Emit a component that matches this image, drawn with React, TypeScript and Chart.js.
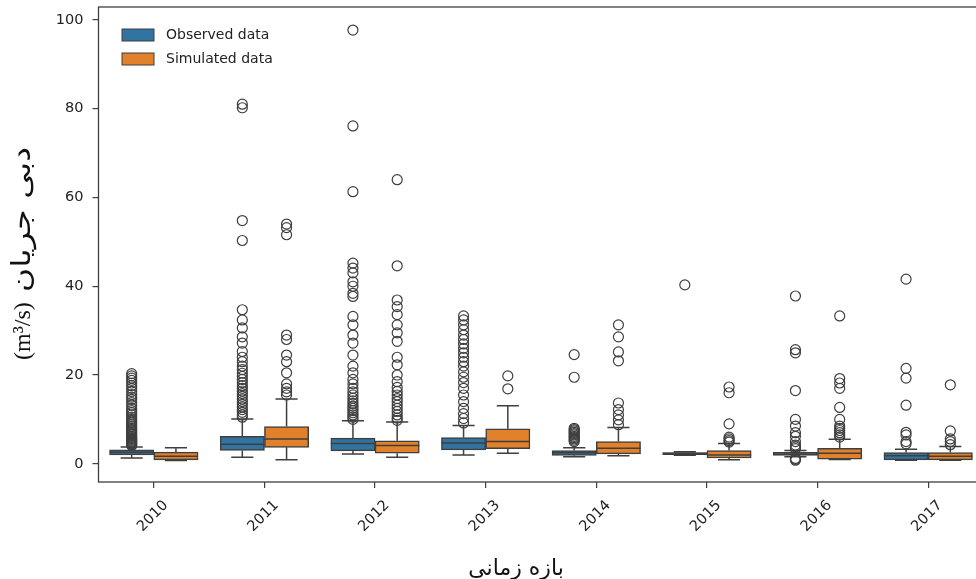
import React, { useEffect, useRef } from 'react';
import { Chart, registerables } from 'chart.js';

Chart.register(...registerables);

const years = ['2010', '2011', '2012', '2013', '2014', '2015', '2016', '2017'];
const yTicks = [0, 20, 40, 60, 80, 100];
const seriesNames = ['Observed data', 'Simulated data'];

const obsLow = [1.3, 1.5, 2.2, 2.0, 1.6, 1.95, 1.6, 0.8];
const obsQ1 = [2.0, 3.0, 2.9, 3.15, 1.9, 2.05, 1.9, 0.9];
const obsMed = [2.6, 4.4, 4.6, 4.7, 2.5, 2.3, 2.2, 1.8];
const obsQ3 = [3.15, 6.2, 5.8, 5.9, 3.0, 2.55, 2.6, 2.55];
const obsHigh = [3.8, 10.1, 9.7, 8.6, 3.6, 2.7, 3.0, 3.3];

const simLow = [0.75, 0.9, 1.5, 2.4, 1.8, 0.9, 0.95, 0.8];
const simQ1 = [0.9, 3.7, 2.4, 3.4, 2.25, 1.3, 1.05, 0.9];
const simMed = [1.7, 5.6, 4.1, 5.0, 3.5, 2.0, 2.4, 1.7];
const simQ3 = [2.64, 8.4, 5.2, 7.9, 5.0, 3.0, 3.5, 2.55];
const simHigh = [3.6, 14.6, 9.4, 13.1, 8.2, 4.6, 5.55, 3.9];

const obsOutliers: number[][] = [
  [4.1, 4.3, 4.5, 4.7, 4.9, 5.1, 5.3, 5.5, 5.7, 5.9, 6.2, 6.5, 6.8, 7.1, 7.4, 7.7, 8.0, 8.4, 8.8, 9.2, 9.6, 10.0, 10.5, 11.0, 11.5, 12.0, 12.5, 13.2, 13.8, 14.5, 15.0, 15.6, 16.3, 17.0, 17.6, 18.2, 18.8, 19.3, 19.8, 20.3],
  [81.0, 80.2, 54.8, 50.3, 34.7, 32.4, 30.6, 28.6, 27.2, 25.3, 24.0, 23.0, 22.0, 21.2, 20.4, 19.7, 19.0, 18.3, 17.6, 17.0, 16.4, 15.8, 15.2, 14.6, 14.0, 13.4, 12.8, 12.2, 11.6, 11.0, 10.5],
  [97.7, 76.1, 61.3, 45.2, 44.1, 43.0, 41.0, 40.0, 38.4, 37.7, 33.2, 31.3, 29.0, 27.2, 24.5, 22.0, 20.5, 19.0, 18.0, 17.0, 16.2, 15.5, 14.8, 14.2, 13.6, 13.0, 12.5, 12.0, 11.5, 11.0, 10.5, 10.0],
  [33.3, 32.4, 31.3, 30.2, 29.0, 28.0, 27.0, 26.0, 25.0, 24.0, 23.0, 22.0, 20.7, 19.5, 18.3, 17.0, 15.5, 14.0, 12.5, 11.3, 10.2, 9.2],
  [24.6, 19.5, 8.0, 7.7, 7.4, 7.1, 6.8, 6.5, 6.2, 5.9, 5.6, 5.3, 5.0],
  [40.3],
  [37.8, 25.7, 25.0, 16.5, 10.0, 8.5, 7.0, 6.2, 5.0, 4.2, 3.8, 3.4, 1.2, 1.0, 0.8],
  [41.6, 21.5, 19.3, 13.2, 7.1, 6.5, 5.0, 4.5],
];

const simOutliers: number[][] = [
  [],
  [54.0, 53.2, 51.6, 29.0, 28.0, 24.5, 23.0, 20.5, 18.0, 17.0, 16.2, 15.5],
  [64.0, 44.6, 36.9, 35.4, 33.6, 31.3, 29.5, 27.6, 24.0, 22.3, 20.0, 18.5, 17.2, 16.3, 15.5, 14.7, 14.0, 13.2, 12.5, 11.8, 11.0, 10.3, 9.8],
  [19.8, 16.9],
  [31.3, 28.6, 25.2, 23.2, 13.7, 12.2, 11.0, 9.9, 8.8],
  [17.3, 16.0, 9.0, 6.0, 5.6, 5.2, 4.9],
  [33.3, 19.2, 18.2, 17.0, 12.7, 10.0, 8.5, 8.0, 7.5, 7.0, 6.5, 6.0],
  [17.8, 7.4, 5.6, 5.0, 4.3],
];

const BLUE = '#3274a1';
const ORANGE = '#e1812c';
const EDGE = '#3f3f3f';
const TEXT = '#222222';
const SANS = '"DejaVu Sans", sans-serif';
const SERIF = '"Liberation Serif", "DejaVu Serif", serif';

const HUE_SHIFT = [-0.2, 0.2];

const boxStats = [
  { low: obsLow, q1: obsQ1, med: obsMed, q3: obsQ3, high: obsHigh },
  { low: simLow, q1: simQ1, med: simMed, q3: simQ3, high: simHigh },
];

const boxPlugin = {
  id: 'boxExtras',
  afterDatasetsDraw(chart: any) {
    const { ctx, scales } = chart;
    const y = scales.y;
    ctx.save();
    ctx.strokeStyle = EDGE;
    ctx.lineWidth = 1.5;
    for (let d = 0; d < 2; d++) {
      const meta = chart.getDatasetMeta(d);
      const st = boxStats[d];
      meta.data.forEach((bar: any, i: number) => {
        const { x, width } = bar.getProps(['x', 'width'], true);
        const yLow = y.getPixelForValue(st.low[i]);
        const yQ1 = y.getPixelForValue(st.q1[i]);
        const yMed = y.getPixelForValue(st.med[i]);
        const yQ3 = y.getPixelForValue(st.q3[i]);
        const yHigh = y.getPixelForValue(st.high[i]);
        const cap = width / 4;
        ctx.beginPath();
        ctx.moveTo(x, yQ3);
        ctx.lineTo(x, yHigh);
        ctx.moveTo(x - cap, yHigh);
        ctx.lineTo(x + cap, yHigh);
        ctx.moveTo(x, yQ1);
        ctx.lineTo(x, yLow);
        ctx.moveTo(x - cap, yLow);
        ctx.lineTo(x + cap, yLow);
        ctx.moveTo(x - width / 2, yMed);
        ctx.lineTo(x + width / 2, yMed);
        ctx.stroke();
      });
    }
    ctx.restore();
  },
  afterDraw(chart: any) {
    const { ctx, chartArea } = chart;
    const { left, top, right, bottom } = chartArea;
    ctx.save();
    // frame
    ctx.strokeStyle = EDGE;
    ctx.lineWidth = 1.3;
    ctx.strokeRect(left, top, right - left, bottom - top);
    // legend
    const colors = [BLUE, ORANGE];
    ctx.font = `14px ${SANS}`;
    ctx.textBaseline = 'middle';
    ctx.textAlign = 'left';
    seriesNames.forEach((name, k) => {
      const ry = top + 22 + k * 24;
      ctx.fillStyle = colors[k];
      ctx.fillRect(left + 23.5, ry, 32, 12);
      ctx.lineWidth = 1;
      ctx.strokeStyle = EDGE;
      ctx.strokeRect(left + 23.5, ry, 32, 12);
      ctx.fillStyle = TEXT;
      ctx.fillText(name, left + 67.5, ry + 6);
    });
    // x axis title
    ctx.fillStyle = '#111';
    ctx.textAlign = 'center';
    ctx.textBaseline = 'middle';
    ctx.font = `22px "DejaVu Sans", ${SERIF}`;
    ctx.fillText('بازه زمانی', 516, 569);
    // y axis title (rotated), unit part then Persian part
    ctx.translate(30, 253);
    ctx.rotate(-Math.PI / 2);
    ctx.textBaseline = 'alphabetic';
    ctx.textAlign = 'left';
    ctx.font = `24px ${SERIF}`;
    const unit = '(m³/s)';
    const uw = ctx.measureText(unit).width;
    ctx.fillText(unit, -107, 0);
    ctx.font = `26px "DejaVu Sans", sans-serif`;
    const fa = 'دبی جریان';
    const fw = ctx.measureText(fa).width;
    const start = -107 + uw + 10;
    const target = 106 - start;
    ctx.translate(start, 0);
    ctx.scale(target / fw, 1);
    ctx.fillText(fa, 0, 0);
    ctx.restore();
  },
};

function boxData(q1: number[], q3: number[], shift: number) {
  return years.map((_, i) => ({ x: i + shift, y: [q1[i], q3[i]] }));
}

function outlierData(arrs: number[][], shift: number) {
  const out: { x: number; y: number }[] = [];
  arrs.forEach((arr, i) => arr.forEach((v) => out.push({ x: i + shift, y: v })));
  return out;
}

export default function App() {
  const ref = useRef<HTMLCanvasElement | null>(null);
  useEffect(() => {
    if (!ref.current) return;
    const pointStyle = {
      type: 'scatter' as const,
      pointRadius: 5,
      pointBorderWidth: 1.2,
      pointBackgroundColor: 'rgba(0,0,0,0)',
      pointBorderColor: EDGE,
      showLine: false,
    };
    const barStyle = {
      borderColor: EDGE,
      borderWidth: 1.5,
      borderSkipped: false,
      grouped: false,
      categoryPercentage: 1,
      barPercentage: 1,
    };
    const chart = new Chart(ref.current, {
      type: 'bar',
      data: {
        datasets: [
          { ...barStyle, label: seriesNames[0], data: boxData(obsQ1, obsQ3, HUE_SHIFT[0]), backgroundColor: BLUE } as any,
          { ...barStyle, label: seriesNames[1], data: boxData(simQ1, simQ3, HUE_SHIFT[1]), backgroundColor: ORANGE } as any,
          { ...pointStyle, label: 'obs-outliers', data: outlierData(obsOutliers, HUE_SHIFT[0]) } as any,
          { ...pointStyle, label: 'sim-outliers', data: outlierData(simOutliers, HUE_SHIFT[1]) } as any,
        ],
      },
      options: {
        animation: false,
        responsive: false,
        devicePixelRatio: 1,
        layout: { padding: { left: 0, top: 0, right: 8.5, bottom: 0 } },
        plugins: { legend: { display: false }, tooltip: { enabled: false } },
        scales: {
          x: {
            type: 'linear',
            min: -0.5,
            max: 7.5,
            offset: false,
            grid: { offset: false, drawOnChartArea: false, tickLength: 6, color: EDGE, lineWidth: 1.2 },
            border: { display: false },
            ticks: {
              font: { family: SANS, size: 14.5 },
              color: TEXT,
              maxRotation: 45,
              minRotation: 45,
              labelOffset: 12,
              padding: 9,
              callback: (v: any) => years[v as number] ?? '',
            },
            afterBuildTicks: (s: any) => {
              s.ticks = years.map((_, i) => ({ value: i }));
            },
            afterFit: (s: any) => {
              s.height = 97;
              s.paddingLeft = 0;
              s.paddingRight = 0;
            },
          },
          y: {
            type: 'linear',
            min: -4.1,
            max: 102.9,
            grid: { drawOnChartArea: false, tickLength: 6, color: EDGE, lineWidth: 1.2 },
            border: { display: false },
            ticks: { font: { family: SANS, size: 14.5 }, color: TEXT, padding: 9 },
            afterBuildTicks: (s: any) => {
              s.ticks = yTicks.map((v) => ({ value: v }));
            },
            afterFit: (s: any) => {
              s.width = 98.5;
              s.paddingTop = 7;
              s.paddingBottom = 0;
            },
          },
        },
      } as any,
      plugins: [boxPlugin],
    });
    return () => chart.destroy();
  }, []);
  return (
    <div style={{ position: 'fixed', left: 0, top: 0, width: 976, height: 579, overflow: 'hidden', background: '#fff' }}>
      <canvas ref={ref} width={992} height={579} style={{ width: 992, height: 579, display: 'block' }} />
    </div>
  );
}
